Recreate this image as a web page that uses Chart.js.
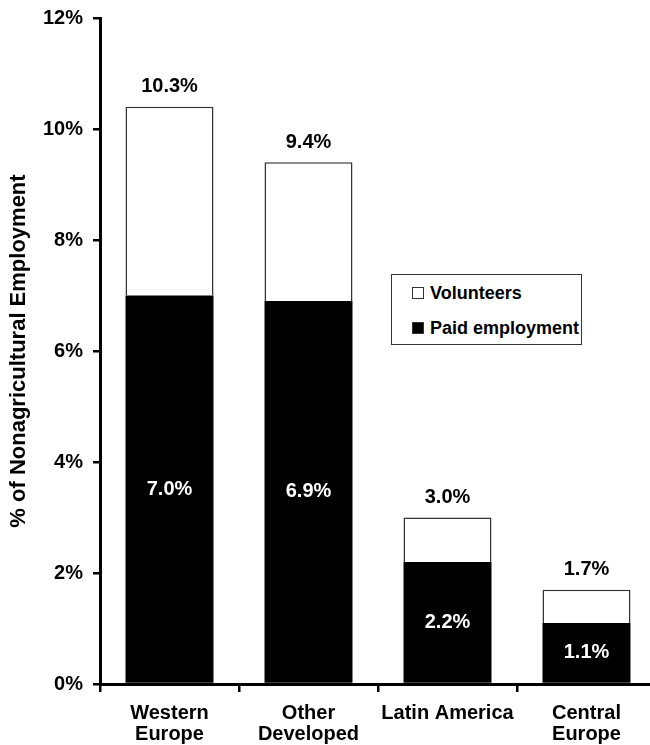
<!DOCTYPE html>
<html>
<head>
<meta charset="utf-8">
<script src="https://cdn.jsdelivr.net/npm/chart.js@4.4.1/dist/chart.umd.min.js"></script>
<style>
  html, body { margin: 0; padding: 0; overflow: hidden; background: #fff; width: 650px; height: 745px; }
  #wrap { position: relative; width: 656px; height: 745px; }
  #legend { position: absolute; left: 391px; top: 274px; width: 189px; height: 69px; border: 1px solid #333; background: #fff;
            font-family: "Liberation Sans", Arial, sans-serif; font-weight: bold; font-size: 18px; color: #000; }
  .item { position: absolute; left: 20px; height: 20px; line-height: 20px; white-space: nowrap; }
  .sw { position: absolute; left: 0; top: 4px; width: 10px; height: 10px; border: 1px solid #333; }
  .txt { position: absolute; left: 18px; top: 0; }
</style>
</head>
<body>
<div id="wrap">
  <canvas id="c"></canvas>
  <div id="legend"></div>
</div>
<script>
const categories = [['Western', 'Europe'], ['Other', 'Developed'], 'Latin America', ['Central', 'Europe']];
const paidEmployment = [7.0, 6.9, 2.2, 1.1];
const volunteers = [3.4, 2.5, 0.8, 0.6];
const totalLabels = [10.3, 9.4, 3.0, 1.7];
const yTicks = [0, 2, 4, 6, 8, 10, 12];
const seriesNames = ['Paid employment', 'Volunteers'];

const FONT = '"Liberation Sans", Arial, sans-serif';

const labelPlugin = {
  id: 'barLabels',
  afterDatasetsDraw(chart) {
    const ctx = chart.ctx;
    const paidMeta = chart.getDatasetMeta(0);
    const volMeta = chart.getDatasetMeta(1);
    ctx.save();
    ctx.font = 'bold 20px ' + FONT;
    ctx.textAlign = 'center';
    ctx.textBaseline = 'middle';
    paidMeta.data.forEach((bar, i) => {
      ctx.fillStyle = '#ffffff';
      ctx.fillText(paidEmployment[i].toFixed(1) + '%', bar.x, (bar.y + bar.base) / 2);
    });
    volMeta.data.forEach((bar, i) => {
      ctx.fillStyle = '#000000';
      ctx.fillText(totalLabels[i].toFixed(1) + '%', bar.x, bar.y - 20);
    });
    ctx.restore();
  }
};

new Chart(document.getElementById('c'), {
  type: 'bar',
  data: {
    labels: categories,
    datasets: [
      { label: seriesNames[0], data: paidEmployment, backgroundColor: '#000000', borderColor: '#000000', borderWidth: 0,
        barPercentage: 0.633, categoryPercentage: 1.0 },
      { label: seriesNames[1], data: volunteers, backgroundColor: '#ffffff', borderColor: '#333333', borderWidth: 1.5,
        barPercentage: 0.633, categoryPercentage: 1.0 }
    ]
  },
  options: {
    responsive: true,
    maintainAspectRatio: false,
    animation: false,
    devicePixelRatio: 1,
    layout: { padding: { top: 17, right: 0, bottom: 0, left: 0 } },
    plugins: { legend: { display: false }, tooltip: { enabled: false } },
    scales: {
      x: {
        stacked: true,
        grid: { display: true, drawOnChartArea: false, drawTicks: true, tickLength: 8, color: '#000', lineWidth: 2.5, offset: true },
        border: { display: true, color: '#000', width: 3 },
        ticks: { color: '#000', font: { family: FONT, size: 20, weight: 'bold', lineHeight: 1.05 }, padding: 11, maxRotation: 0, autoSkip: false },
        afterFit(scale) { scale.height = 61; }
      },
      y: {
        stacked: true,
        min: 0, max: 12,
        afterBuildTicks(scale) { scale.ticks = yTicks.map(v => ({ value: v })); },
        grid: { display: true, drawOnChartArea: false, drawTicks: true, tickLength: 7, color: '#000', lineWidth: 2.5 },
        border: { display: true, color: '#000', width: 3 },
        ticks: { color: '#000', font: { family: FONT, size: 20, weight: 'bold', lineHeight: 0.8 }, padding: 10, callback: v => v + '%' },
        title: { display: true, text: '% of Nonagricultural Employment', color: '#000',
                 font: { family: FONT, size: 22, weight: 'bold' }, padding: { top: 6, bottom: 0 } },
        afterFit(scale) { scale.width = 100; }
      }
    }
  },
  plugins: [labelPlugin]
});

// HTML legend (Volunteers listed first, as in the reference)
const legendItems = [
  { name: seriesNames[1], fill: '#ffffff', top: 8 },
  { name: seriesNames[0], fill: '#000000', top: 43 }
];
const lg = document.getElementById('legend');
legendItems.forEach(it => {
  const d = document.createElement('div');
  d.className = 'item';
  d.style.top = it.top + 'px';
  const sw = document.createElement('span');
  sw.className = 'sw';
  sw.style.background = it.fill;
  const t = document.createElement('span');
  t.className = 'txt';
  t.textContent = it.name;
  d.appendChild(sw); d.appendChild(t);
  lg.appendChild(d);
});
</script>
</body>
</html>
